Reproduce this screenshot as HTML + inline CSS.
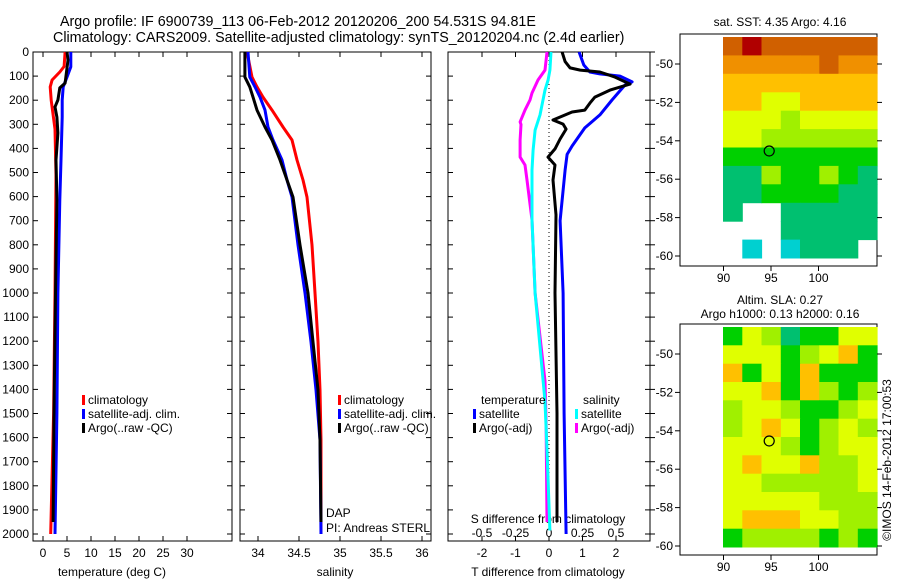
<!DOCTYPE html>
<html><head><meta charset="utf-8"><style>
body{margin:0;background:#fff;}
svg{display:block;font-family:"Liberation Sans",sans-serif;}
</style></head><body>
<svg id="fig" width="900" height="580" viewBox="0 0 900 580">
<rect width="900" height="580" fill="#fff"/>
<text x="60" y="26" font-size="14.3">Argo profile: IF 6900739_113 06-Feb-2012 20120206_200 54.531S 94.81E</text>
<text x="53" y="42" font-size="14.3">Climatology: CARS2009. Satellite-adjusted climatology: synTS_20120204.nc (2.4d earlier)</text>
<g id="g"></g>
</svg>
<script>
// ---- data ----
const depthTicks=[0,100,200,300,400,500,600,700,800,900,1000,1100,1200,1300,1400,1500,1600,1700,1800,1900,2000];
const tTicks=[0,5,10,15,20,25,30];
const sTicks=[34,34.5,35,35.5,36];
const tdTicks=[-2,-1,0,1,2];
const sdTicks=[-0.5,-0.25,0,0.25,0.5];
const sdTickLabels=["-0.5","-0.25","0","0.25","0.5"];
const tClimDepth=[0,60,83,116,145,200,260,320,510,1000,1500,2000];
const tClim=[4.6,4.4,3.5,1.9,1.5,1.7,2.1,2.5,2.7,2.5,2.2,1.6];
const tArgoDepth=[0,33,129,149,199,228,270,336,448,614,1000,1500,1950];
const tArgo=[5.0,5.2,4.6,3.5,3.1,2.5,2.9,3.1,2.7,2.9,2.6,2.3,2.1];
const tSatDepth=[0,62,104,145,199,270,448,614,1000,1500,2000];
const tSat=[5.8,5.8,5.0,4.2,4.0,4.0,3.75,3.5,3.1,2.9,2.5];
const sDepth=[0,104,145,187,241,311,365,448,531,602,801,1000,1203,1402,1610,2000];
const sArgoDepth=[0,104,145,187,241,311,365,448,531,602,801,1000,1203,1402,1610,1950];
const sArgo=[33.84,33.84,33.90,33.939,33.988,34.085,34.171,34.268,34.354,34.427,34.512,34.61,34.671,34.732,34.756,34.768];
const sSat=[33.878,33.90,33.963,34.024,34.085,34.122,34.183,34.293,34.354,34.415,34.488,34.573,34.646,34.707,34.756,34.768];
const sClim=[33.866,33.927,33.988,34.061,34.171,34.305,34.415,34.476,34.549,34.598,34.659,34.695,34.732,34.756,34.768,34.768];
const dTArgoDepth=[0,40,66,75,83,104,133,158,187,212,241,249,282,299,320,361,402,436,469,531,676,1000,1500,1950];
const dTArgo=[0.39,0.48,0.63,0.93,1.52,1.97,2.42,1.82,1.37,1.22,1.07,0.69,0.12,0.42,0.51,0.33,0.18,-0.03,0.18,0.12,0.21,0.18,0.24,0.24];
const dTSatDepth=[0,54,83,91,100,124,137,199,261,315,390,425,490,700,1000,1500,2000];
const dTSat=[0.90,1.04,1.22,1.52,2.12,2.48,2.27,1.88,1.52,1.07,0.69,0.54,0.48,0.33,0.42,0.45,0.51];
const dSArgoDepth=[0,75,116,170,199,241,290,301,365,436,469,531,697,1000,1365,1540,1950];
const dSArgo=[-0.015,-0.03,-0.082,-0.127,-0.142,-0.179,-0.216,-0.209,-0.216,-0.216,-0.179,-0.164,-0.127,-0.104,-0.03,-0.022,-0.015];
const dSSatDepth=[0,75,116,158,199,261,324,407,490,697,1000,1450,1650,1985];
const dSSat=[0.015,0.007,-0.007,-0.03,-0.045,-0.067,-0.104,-0.119,-0.127,-0.127,-0.104,-0.03,-0.015,0.007];
const lonTicks=[90,95,100];
const latTicks=[-50,-52,-54,-56,-58,-60];
const sstGrid=[
[9,10,9,9,9,9,9,9],[8,8,8,8,8,9,8,8],[7,7,7,7,7,7,7,7],[7,7,6,6,7,7,7,7],
[6,6,6,5,6,6,6,6],[6,6,5,5,5,5,5,5],[4,4,4,4,4,4,4,4],[3,3,5,4,4,5,4,3],
[3,3,4,4,4,4,3,3],[3,null,null,3,3,3,3,3],[null,null,null,3,3,3,3,3],[null,2,null,2,3,3,3,null]];
const slaGrid=[
[4,6,5,3,4,4,6,6],[6,6,6,4,5,6,7,4],[7,4,6,4,7,4,4,4],[6,6,7,4,7,5,4,5],
[5,6,6,5,4,4,5,6],[5,6,7,6,4,5,6,5],[6,6,6,5,4,5,6,6],[6,7,6,6,7,5,5,6],
[6,6,5,5,5,5,5,6],[6,6,6,6,6,5,5,5],[6,7,7,7,6,6,5,5],[4,5,5,5,5,4,5,4]];
const argoLon=94.81, argoLat=-54.53;

// ---- helpers ----
const NS="http://www.w3.org/2000/svg";
const G=document.getElementById('g');
function mk(tag,attrs,parent){const e=document.createElementNS(NS,tag);for(const k in attrs)e.setAttribute(k,attrs[k]);(parent||G).appendChild(e);return e;}
function txt(x,y,s,anchor,size,name){const e=mk('text',{x:x,y:y,'font-size':size||12,'text-anchor':anchor||'start'});e.textContent=s;


return e;}
const yD=d=>52+d*0.241;
const xT=t=>43+t*4.8;
const xS=s=>258+(s-34)*82;
const xDT=t=>549+t*33.5;
const xDS=s=>549+s*134;
function line(xs,ds,fx,color,name){const pts=xs.map((v,i)=>fx(v).toFixed(1)+','+yD(ds[i]).toFixed(1)).join(' ');
const e=mk('polyline',{points:pts,fill:'none',stroke:color,'stroke-width':3,'stroke-linejoin':'round'});

}
function box(x0,x1,y0,y1,name){const e=mk('rect',{x:x0,y:y0,width:x1-x0,height:y1-y0,fill:'none',stroke:'#000','stroke-width':1});

}
function tick(x1,y1,x2,y2){mk('line',{x1:x1,y1:y1,x2:x2,y2:y2,stroke:'#000','stroke-width':1});}

// ---- panels ----
const panels=[[33,232],[240,431],[448,650]];
panels.forEach((p,i)=>{box(p[0],p[1],52,541,'profile-panel-'+(i+1));
depthTicks.forEach(d=>{tick(p[0],yD(d),p[0]+5,yD(d));tick(p[1],yD(d),p[1]-5,yD(d));});});
depthTicks.forEach(d=>{txt(29,yD(d)+4,String(d),'end',12,'depth-tick-label');});
depthTicks.forEach(d=>{tick(650,yD(d),655,yD(d));});
tTicks.forEach(t=>{tick(xT(t),541,xT(t),536);tick(xT(t),52,xT(t),57);txt(xT(t),557,String(t),'middle',12,'temp-tick-label');});
sTicks.forEach(s=>{tick(xS(s),541,xS(s),536);tick(xS(s),52,xS(s),57);txt(xS(s),557,String(s),'middle',12,'sal-tick-label');});
tdTicks.forEach(t=>{tick(xDT(t),541,xDT(t),536);tick(xDT(t),52,xDT(t),57);txt(xDT(t),557,String(t),'middle',12,'tdiff-tick-label');});
sdTicks.forEach((s,i)=>{txt(xDS(s),537,sdTickLabels[i],'middle',12,'sdiff-tick-label');});
txt(112,576,'temperature (deg C)','middle',12,'x-axis-title-temperature');
txt(335,576,'salinity','middle',12,'x-axis-title-salinity');
txt(548,576,'T difference from climatology','middle',12,'x-axis-title-tdiff');
txt(548,523,'S difference from climatology','middle',12,'x-axis-title-sdiff');
mk('line',{x1:549,y1:52,x2:549,y2:480,stroke:'#000','stroke-width':1,'stroke-dasharray':'1,3'});

line(tClim,tClimDepth,xT,'#ff0000','temp-climatology-line');
line(tSat,tSatDepth,xT,'#0000ff','temp-satellite-line');
line(tArgo,tArgoDepth,xT,'#000','temp-argo-line');
line(sClim,sDepth,xS,'#ff0000','sal-climatology-line');
line(sSat,sDepth,xS,'#0000ff','sal-satellite-line');
line(sArgo,sArgoDepth,xS,'#000','sal-argo-line');
line(dSArgo,dSArgoDepth,xDS,'#ff00ff','sdiff-argo-line');
line(dSSat,dSSatDepth,xDS,'#00ffff','sdiff-satellite-line');
line(dTSat,dTSatDepth,xDT,'#0000ff','tdiff-satellite-line');
line(dTArgo,dTArgoDepth,xDT,'#000','tdiff-argo-line');

function legItem(x,y,color,label){const r=mk('rect',{x:x,y:y-9,width:3,height:10,fill:color});


txt(x+6,y,label,'start',12,'legend-entry');}
[[82,'climatology','#ff0000'],[82,'satellite-adj. clim.','#0000ff'],[82,'Argo(..raw -QC)','#000']].forEach((l,i)=>{legItem(l[0],404+i*14,l[2],l[1]);legItem(338,404+i*14,l[2],l[1]);});
txt(481,404,'temperature','start',12,'legend-title-temperature');
legItem(473,418,'#0000ff','satellite');legItem(473,432,'#000','Argo(-adj)');
txt(583,404,'salinity','start',12,'legend-title-salinity');
legItem(575,418,'#00ffff','satellite');legItem(575,432,'#ff00ff','Argo(-adj)');
txt(326,517,'DAP','start',12,'dap-label');
txt(326,532,'PI: Andreas STERL','start',12,'pi-label');

// ---- maps ----
const cmap=['#0060e0','#00a0ff','#00d0d0','#00c070','#00d000','#a0f000','#e0ff00','#ffc000','#f09000','#d06000','#b00000'];
function map(top,bottom,grid,name,imgTop,y50){
box(680,877,top,bottom,name+'-frame');
const ix0=723, ix1=877, iy0=imgTop, iy1=bottom-8;
const yL=lat=>y50+(-50-lat)*19.2;
const xL=lon=>771+(lon-95)*9.5;
const rows=grid.length, cols=grid[0].length, cw=(ix1-ix0)/cols, ch=(iy1-iy0)/rows;
grid.forEach((row,r)=>row.forEach((v,c)=>{if(v===null)return;
const e=mk('rect',{x:(ix0+c*cw).toFixed(1),y:(iy0+r*ch).toFixed(1),width:(cw+0.5).toFixed(1),height:(ch+0.5).toFixed(1),fill:cmap[v]});

}));
lonTicks.forEach(l=>{tick(xL(l),bottom,xL(l),bottom+5);txt(xL(l),bottom+16,String(l),'middle',12,'lon-tick-label');});
latTicks.forEach(l=>{tick(680,yL(l),675,yL(l));tick(877,yL(l),882,yL(l));txt(673,yL(l)+4,String(l),'end',12,'lat-tick-label');});
const c=mk('circle',{cx:xL(argoLon),cy:yL(argoLat),r:5,fill:'none',stroke:'#000','stroke-width':1.2});


}
map(34,266,sstGrid,'sst-map',37,64);
map(324,555,slaGrid,'sla-map',327,354);
txt(780,26,'sat. SST: 4.35 Argo: 4.16','middle',12,'sst-map-title');
txt(780,304,'Altim. SLA: 0.27','middle',12,'sla-map-title');
txt(780,318,'Argo h1000: 0.13 h2000: 0.16','middle',12,'sla-map-subtitle');
const cp=txt(0,0,'©IMOS 14-Feb-2012 17:00:53','middle',12,'copyright-label');
cp.setAttribute('transform','translate(891,460) rotate(-90)');
</script>
</body></html>
